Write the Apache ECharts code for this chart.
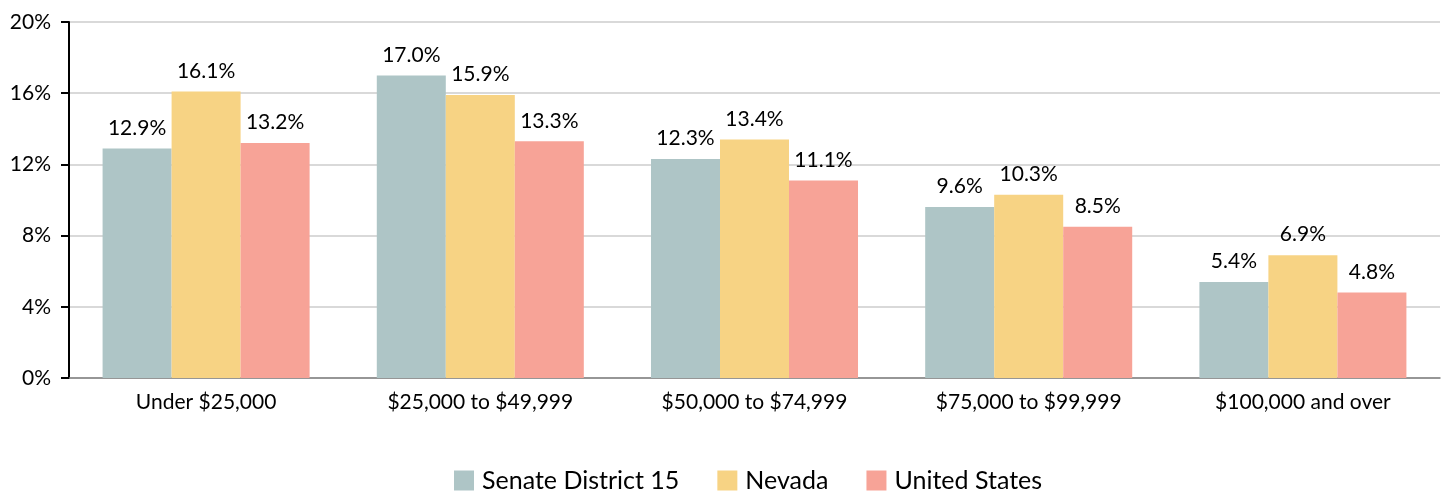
<!DOCTYPE html>
<html>
<head>
<meta charset="utf-8">
<script src="https://cdn.jsdelivr.net/npm/echarts@6/dist/echarts.min.js"></script>
<style>
    html, body { margin: 0; padding: 0; background: #fff; }
    #chart { width: 1446px; height: 495px; }
</style>
</head>
<body>
<div id="chart"></div>
<script>
// income brackets
var categories = [
    "Under $25,000",
    "$25,000 to $49,999",
    "$50,000 to $74,999",
    "$75,000 to $99,999",
    "$100,000 and over",
];
var district15 = [12.9, 17.0, 12.3, 9.6, 5.4];
var nevada = [16.1, 15.9, 13.4, 10.3, 6.9];
var unitedStates = [13.2, 13.3, 11.1, 8.5, 4.8];
var yTicks = [0, 4, 8, 12, 16, 20];

var FONT = "Lato, 'Open Sans', sans-serif";

function makeSeries(name, data, color) {
    return {
        name: name,
        type: "bar",
        data: data,
        barGap: "0%",
        barCategoryGap: "24.5%",
        itemStyle: { color: color },
        label: {
            show: true,
            position: "top",
            distance: 10,
            color: "#000",
            fontSize: 21,
            fontFamily: FONT,
            formatter: function (p) {
                return p.value.toFixed(1) + "%";
            },
        },
    };
}

var myChart = echarts.init(document.getElementById("chart"));
var option = {
    animation: false,
    grid: {
        left: 69,
        right: 6,
        top: 22,
        bottom: 117,
    },
    legend: {
        top: 468,
        left: 454,
        padding: 0,
        itemWidth: 20,
        itemHeight: 20,
        itemGap: 38,
        icon: "rect",
        textStyle: {
            fontSize: 25,
            fontFamily: FONT,
            color: "#000",
            padding: [0, 0, 0, 3],
        },
        data: ["Senate District 15", "Nevada", "United States"],
    },
    xAxis: {
        type: "category",
        data: categories,
        axisLine: { lineStyle: { color: "#808080", width: 1.5 } },
        axisTick: { show: false },
        axisLabel: {
            color: "#000",
            fontSize: 21,
            fontFamily: FONT,
            margin: 14,
        },
    },
    yAxis: {
        type: "value",
        min: yTicks[0],
        max: yTicks[yTicks.length - 1],
        interval: 4,
        axisLine: { show: true, lineStyle: { color: "#000", width: 2 } },
        axisTick: { show: true, length: 8, lineStyle: { color: "#000", width: 2 } },
        axisLabel: {
            color: "#000",
            fontSize: 21,
            fontFamily: FONT,
            margin: 18,
            formatter: "{value}%",
        },
        splitLine: { lineStyle: { color: "#cccccc", width: 1.5 } },
    },
    series: [
        makeSeries("Senate District 15", district15, "#aec5c6"),
        makeSeries("Nevada", nevada, "#f7d384"),
        makeSeries("United States", unitedStates, "#f7a397"),
    ],
};
myChart.setOption(option);
</script>
</body>
</html>
